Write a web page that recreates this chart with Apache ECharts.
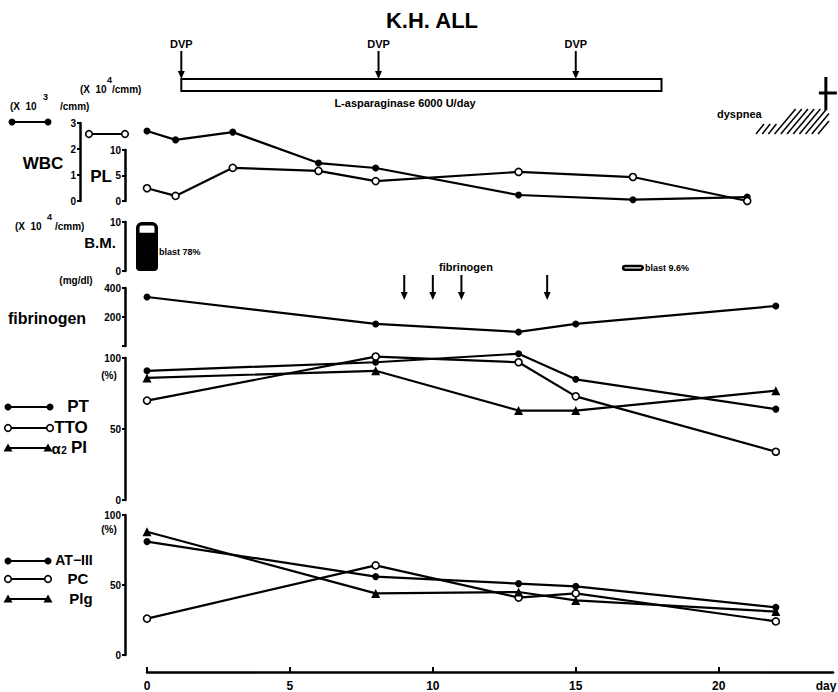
<!DOCTYPE html>
<html><head><meta charset="utf-8">
<script src="https://cdn.jsdelivr.net/npm/echarts@6/dist/echarts.min.js"></script>
<style>html,body{margin:0;padding:0;background:#fff}#c{width:838px;height:692px}</style>
</head><body><div id="c"></div>
<script>
const FONT = '"Liberation Sans", Arial, sans-serif';
// ---- data ----
const wbcDays = [0, 1, 3, 6, 8, 13, 17, 21];
const wbcValues = [2.69, 2.35, 2.65, 1.46, 1.27, 0.23, 0.05, 0.15];
const plValues = [2.5, 1.0, 6.5, 5.9, 3.9, 5.7, 4.7, 0];
const bmDays = [0, 17];
const bmTotal = [10, 1.3];
const blastPct = [78, 9.6];
const fibDays = [0, 8, 13, 15, 22];
const fibValues = [338, 152, 97, 152, 276];
const coagDays = [0, 8, 13, 15, 22];
const ptValues = [91, 97, 103, 85, 64];
const ttoValues = [70, 101, 97, 73, 34];
const a2piValues = [86, 91, 63, 63, 77];
const inhibDays = [0, 8, 13, 15, 22];
const at3Values = [81, 56, 51, 49, 34];
const pcValues = [26, 64, 41, 44, 24];
const plgValues = [88, 44, 45, 39, 31];
const dvpDays = [1.2, 8.1, 15];
const aspDays = [1.2, 18];
const fibArrowDays = [9, 10, 11, 14];
const deathDay = 23.75;
const xTickValues = [0, 5, 10, 15, 20];

const chart = echarts.init(document.getElementById('c'), null, {renderer: 'svg'});

const gridDefs = [[123, 78], [150, 51], [222, 49], [288, 58], [358, 142], [515, 140]];
const grids = gridDefs.map(g => ({left: 147, right: 5, top: g[0], height: g[1]}));

const xAxes = grids.map((g, i) => ({
  type: 'value', gridIndex: i, min: 0, max: 24, show: i === 5,
  position: 'bottom', offset: 17,
  axisLine: {show: true, onZero: false, lineStyle: {color: '#000', width: 2.5}},
  axisTick: {show: true, inside: true, length: 5, customValues: xTickValues, lineStyle: {color: '#000', width: 2}},
  axisLabel: {show: true, customValues: xTickValues, color: '#000', fontSize: 12, fontWeight: 'bold', fontFamily: FONT, margin: 8},
  splitLine: {show: false}
}));

function yAx(i, max, interval, offset, fmt) {
  return {
    type: 'value', gridIndex: i, min: 0, max: max, interval: interval, position: 'left', offset: offset,
    axisLine: {show: true, onZero: false, lineStyle: {color: '#000', width: 2.5}},
    axisTick: {show: true, length: 3, lineStyle: {color: '#000', width: 2}},
    axisLabel: {color: '#000', fontSize: 10, fontWeight: 'bold', fontFamily: FONT, margin: 4, formatter: fmt},
    splitLine: {show: false}
  };
}
const yAxes = [
  yAx(0, 3, 1, 67),
  yAx(1, 10, 5, 22),
  yAx(2, 10, 10, 22),
  yAx(3, 400, 200, 22, v => v === 0 ? '' : v),
  yAx(4, 100, 50, 22),
  yAx(5, 100, 50, 22)
];

function symStyle(kind) {
  if (kind === 'open') return {symbol: 'circle', symbolSize: 7, itemStyle: {color: '#fff', borderColor: '#000', borderWidth: 1.6}};
  if (kind === 'tri') return {symbol: 'triangle', symbolSize: 9, itemStyle: {color: '#000'}};
  return {symbol: 'circle', symbolSize: 7, itemStyle: {color: '#000'}};
}
function lineS(name, gi, days, vals, kind) {
  return Object.assign({
    name: name, type: 'line', xAxisIndex: gi, yAxisIndex: gi, clip: false,
    data: days.map((d, i) => [d, vals[i]]),
    lineStyle: {color: '#000', width: 2.2}, showSymbol: true, z: 3
  }, symStyle(kind));
}

const labelBase = {show: true, position: 'right', distance: 1, color: '#000', fontSize: 9, fontWeight: 'bold', fontFamily: FONT};
const series = [
  lineS('WBC', 0, wbcDays, wbcValues, 'filled'),
  lineS('PL', 1, wbcDays, plValues, 'open'),
  {
    name: 'B.M. total', type: 'bar', xAxisIndex: 2, yAxisIndex: 2, barWidth: 22, barGap: '-100%', z: 2,
    data: bmDays.map((d, i) => ({
      value: [d, bmTotal[i]],
      itemStyle: i === 0 ? {color: '#fff', borderColor: '#000', borderWidth: 3.5, borderRadius: 4}
                         : {color: '#fff', borderColor: '#000', borderWidth: 2.5, borderRadius: 3},
      label: i === 1 ? Object.assign({}, labelBase, {formatter: 'blast ' + blastPct[i] + '%'}) : {show: false}
    }))
  },
  {
    name: 'blast', type: 'bar', xAxisIndex: 2, yAxisIndex: 2, barWidth: 22, barGap: '-100%', z: 3,
    data: bmDays.map((d, i) => ({
      value: [d, bmTotal[i] * blastPct[i] / 100],
      itemStyle: i === 0 ? {color: '#000', borderRadius: [0, 0, 4, 4]} : {color: 'rgba(0,0,0,0)'},
      label: i === 0 ? Object.assign({}, labelBase, {formatter: 'blast ' + blastPct[i] + '%'}) : {show: false}
    }))
  },
  lineS('fibrinogen', 3, fibDays, fibValues, 'filled'),
  lineS('PT', 4, coagDays, ptValues, 'filled'),
  lineS('TTO', 4, coagDays, ttoValues, 'open'),
  lineS('α2PI', 4, coagDays, a2piValues, 'tri'),
  lineS('AT-III', 5, inhibDays, at3Values, 'filled'),
  lineS('PC', 5, inhibDays, pcValues, 'open'),
  lineS('Plg', 5, inhibDays, plgValues, 'tri')
];

chart.setOption({
  animation: false,
  backgroundColor: '#fff',
  grid: grids, xAxis: xAxes, yAxis: yAxes, series: series
});

// ---- annotations ----
const px = d => chart.convertToPixel({xAxisIndex: 0}, d);
const G = [];
function txt(t, x, y, size, align, extra) {
  G.push(Object.assign({type: 'text', silent: true, style: {text: t, x: x, y: y, fill: '#000',
    font: 'bold ' + size + 'px ' + FONT, textAlign: align || 'left', textVerticalAlign: 'middle'}}, extra || {}));
}
function seg(x1, y1, x2, y2, w) {
  G.push({type: 'line', silent: true, shape: {x1: x1, y1: y1, x2: x2, y2: y2}, style: {stroke: '#000', lineWidth: w || 2}});
}
function arrowDown(x, y1, y2) {
  seg(x, y1, x, y2 - 5, 2);
  G.push({type: 'polygon', silent: true, shape: {points: [[x - 3.5, y2 - 8], [x + 3.5, y2 - 8], [x, y2]]}, style: {fill: '#000'}});
}
function legendLine(x1, x2, y, kind) {
  seg(x1, y, x2, y, 2.2);
  [x1, x2].forEach(x => {
    if (kind === 'open') G.push({type: 'circle', silent: true, shape: {cx: x, cy: y, r: 3.3}, style: {fill: '#fff', stroke: '#000', lineWidth: 1.6}});
    else if (kind === 'tri') G.push({type: 'polygon', silent: true, shape: {points: [[x - 4.5, y + 3.5], [x + 4.5, y + 3.5], [x, y - 4.5]]}, style: {fill: '#000'}});
    else G.push({type: 'circle', silent: true, shape: {cx: x, cy: y, r: 3.5}, style: {fill: '#000'}});
  });
}

// title
txt('K.H. ALL', 432, 20, 22, 'center');
// DVP arrows
dvpDays.forEach(d => { const x = px(d); txt('DVP', x, 44, 11, 'center'); arrowDown(x, 51, 79); });
// L-asparaginase bar
const ax1 = px(aspDays[0]), ax2 = px(aspDays[1]);
G.push({type: 'rect', silent: true, shape: {x: ax1, y: 79, width: ax2 - ax1, height: 12}, style: {fill: '#fff', stroke: '#000', lineWidth: 2}});
txt('L-asparaginase 6000 U/day', 405, 103, 11, 'center');
// death / dyspnea
const dx = px(deathDay);
seg(dx, 77, dx, 110, 3);
seg(dx - 7, 93, dx + 11, 93, 3);
txt('dyspnea', 717, 114, 11, 'left');
for (let x0 = 756; x0 <= 824; x0 += 6.2) {
  let xa = x0, ya = 134, xb = x0 + 21, yb = 109;
  if (x0 < 770) { xb = x0 + 8; yb = 124; }
  if (xb > 829) { const t = (829 - xa) / (xb - xa); xb = 829; yb = ya + (yb - ya) * t; }
  seg(xa, ya, xb, yb, 1.5);
}
// unit labels
txt('(X  10', 80, 89, 10, 'left'); txt('4', 107, 80, 9, 'left'); txt('/cmm)', 112, 89, 10, 'left');
txt('(X  10', 10, 106, 10, 'left'); txt('3', 43, 97, 9, 'left'); txt('/cmm)', 60, 106, 10, 'left');
legendLine(12, 48, 122, 'filled');
legendLine(89, 125, 134, 'open');
txt('WBC', 43, 163, 17, 'center');
txt('PL', 101, 176, 17, 'center');
// B.M.
txt('(X  10', 15, 226, 10, 'left'); txt('4', 47, 217, 9, 'left'); txt('/cmm)', 55, 226, 10, 'left');
txt('B.M.', 100, 242, 15, 'center');
// fibrinogen
txt('(mg/dl)', 76, 280, 10, 'center');
txt('fibrinogen', 47, 318, 16, 'center');
txt('fibrinogen', 466, 267, 11, 'center');
fibArrowDays.forEach(d => arrowDown(px(d), 275, 300));
// PT panel
txt('(%)', 109, 375, 10, 'center');
legendLine(8, 50, 407, 'filled'); txt('PT', 78, 406, 17, 'center');
legendLine(8, 50, 428, 'open'); txt('TTO', 71, 427, 17, 'center');
legendLine(8, 48, 448, 'tri'); txt('α', 56, 448, 15, 'center'); txt('2', 64, 450, 10, 'center'); txt('PI', 79, 447, 17, 'center');
// AT-III panel
txt('(%)', 109, 529, 10, 'center');
legendLine(8, 48, 561, 'filled'); txt('AT−III', 74, 560, 14, 'center');
legendLine(8, 48, 579, 'open'); txt('PC', 78, 578, 15, 'center');
legendLine(8, 48, 599, 'tri'); txt('Plg', 81, 598, 15, 'center');
// x axis name
txt('day', 826, 686, 12, 'center');

chart.setOption({graphic: G});
</script></body></html>
